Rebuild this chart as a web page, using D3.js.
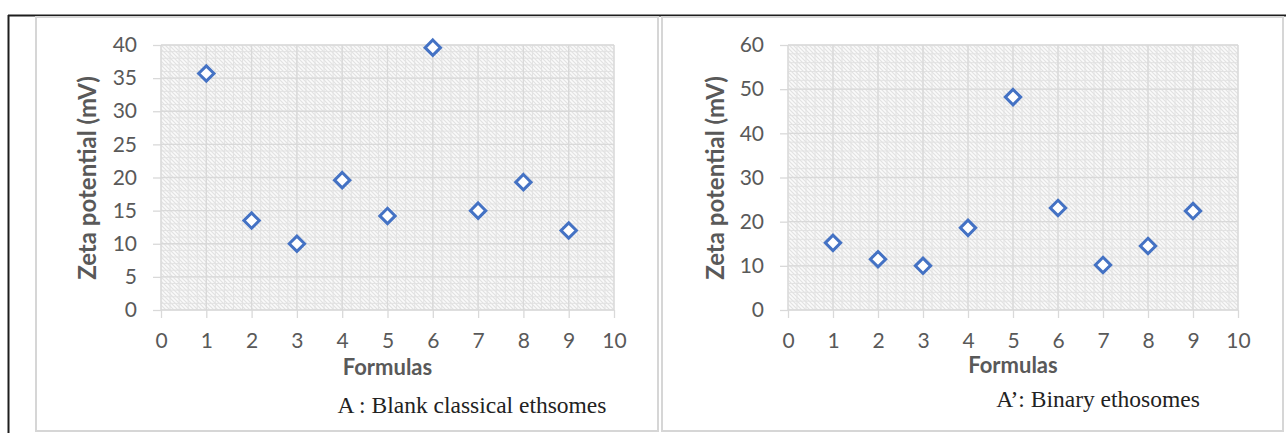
<!DOCTYPE html>
<html><head><meta charset="utf-8">
<script src="https://cdn.jsdelivr.net/npm/d3@7"></script>
<style>
html,body{margin:0;padding:0;background:#fff;}
svg{display:block;}
</style></head>
<body>
<svg id="c" width="1286" height="433"></svg>
<script>
// ---- data ----
const formulas = [1,2,3,4,5,6,7,8,9];
const zetaBlank = [35.7, 13.5, 10.0, 19.6, 14.2, 39.6, 15.0, 19.3, 12.0];
const zetaBinary = [15.2, 11.5, 10.0, 18.6, 48.2, 23.1, 10.2, 14.5, 22.4];
const xTicks = [0,1,2,3,4,5,6,7,8,9,10];
const yTicksA = [0,5,10,15,20,25,30,35,40];
const yTicksB = [0,10,20,30,40,50,60];
const xTitle = "Formulas";
const yTitleA = "Zeta potential  (mV)";
const yTitleB = "Zeta potential (mV)";
const captionA = "A : Blank classical ethsomes";
const captionB = "A\u2019: Binary ethosomes";

const svg = d3.select("#c");
const defs = svg.append("defs");
const pat = defs.append("pattern").attr("id","hatch")
  .attr("patternUnits","userSpaceOnUse").attr("width",4).attr("height",4);
pat.append("rect").attr("width",4).attr("height",4).attr("fill","#fafafa");
pat.append("path").attr("d","M-1,-1 L5,5 M-1,3 L1,5 M3,-1 L5,1")
  .attr("stroke","#e1e1e1").attr("stroke-width",1.1);

// frame
svg.append("line").attr("x1",8).attr("x2",1286).attr("y1",15.5).attr("y2",15.5)
  .attr("stroke","#1e1e1e").attr("stroke-width",2);
svg.append("line").attr("x1",8.5).attr("x2",8.5).attr("y1",15).attr("y2",433)
  .attr("stroke","#1e1e1e").attr("stroke-width",2);
svg.append("rect").attr("x",36).attr("y",17).attr("width",622).attr("height",414)
  .attr("fill","none").attr("stroke","#d6d6d6").attr("stroke-width",2);
svg.append("rect").attr("x",662).attr("y",17).attr("width",621).attr("height",414)
  .attr("fill","none").attr("stroke","#d6d6d6").attr("stroke-width",2);

const font = "Lato, 'Open Sans', sans-serif";
const grey = "#595959";

function chart(cfg){
  const x = d3.scaleLinear().domain([0,10]).range(cfg.xr);
  const y = d3.scaleLinear().domain([0,cfg.ymax]).range([310,45]);
  const g = svg.append("g");
  // plot area with hatch
  g.append("rect").attr("x",x(0)).attr("y",y(cfg.ymax))
    .attr("width",x(10)-x(0)).attr("height",y(0)-y(cfg.ymax)).attr("fill","url(#hatch)");
  // minor grid
  const minorX = d3.range(0,10.001,0.2);
  const minorY = d3.range(0,cfg.ymax+0.001,cfg.ystep/5);
  g.append("g").selectAll("line").data(minorX).join("line")
    .attr("x1",d=>x(d)).attr("x2",d=>x(d)).attr("y1",y(0)).attr("y2",y(cfg.ymax))
    .attr("stroke","#e2e2e2").attr("stroke-width",1);
  g.append("g").selectAll("line").data(minorY).join("line")
    .attr("y1",d=>y(d)).attr("y2",d=>y(d)).attr("x1",x(0)).attr("x2",x(10))
    .attr("stroke","#e2e2e2").attr("stroke-width",1);
  // major grid
  g.append("g").selectAll("line").data(xTicks).join("line")
    .attr("x1",d=>x(d)).attr("x2",d=>x(d)).attr("y1",y(0)).attr("y2",y(cfg.ymax))
    .attr("stroke","#d9d9d9").attr("stroke-width",1.3);
  g.append("g").selectAll("line").data(cfg.yTicks).join("line")
    .attr("y1",d=>y(d)).attr("y2",d=>y(d)).attr("x1",x(0)).attr("x2",x(10))
    .attr("stroke","#d9d9d9").attr("stroke-width",1.3);
  // axes
  const ya = g.append("g").attr("transform",`translate(${x(0)},0)`)
    .call(d3.axisLeft(y).tickValues(cfg.yTicks).tickSize(8).tickPadding(16));
  const xa = g.append("g").attr("transform",`translate(0,${y(0)})`)
    .call(d3.axisBottom(x).tickValues(xTicks).tickSize(8).tickPadding(15));
  [ya,xa].forEach(a=>{
    a.select(".domain").remove();
    a.selectAll(".tick line").attr("stroke","#d9d9d9").attr("stroke-width",1.3);
    a.selectAll("text").attr("fill",grey).style("font-family",font).style("font-size","21px");
  });
  // markers
  const sym = d3.symbol().type(d3.symbolDiamond2).size(150);
  g.append("g").selectAll("path").data(cfg.vals).join("path")
    .attr("transform",(d,i)=>`translate(${x(formulas[i])},${y(d)})`)
    .attr("d",sym).attr("fill","#fff").attr("stroke","#4472c4").attr("stroke-width",3);
  // titles
  g.append("text").attr("x",(x(0)+x(10))/2).attr("y",cfg.fy).attr("text-anchor","middle")
    .style("font-family",font).style("font-size","22px").style("font-weight","bold")
    .attr("fill",grey).text(xTitle);
  g.append("text").attr("transform",`translate(${cfg.ytx},178) rotate(-90)`)
    .attr("text-anchor","middle").attr("dy","0.35em")
    .style("font-family",font).style("font-size","24px").style("font-weight","bold")
    .attr("fill",grey).text(cfg.ytitle);
  g.append("text").attr("x",cfg.capx).attr("y",cfg.capy).attr("text-anchor","middle")
    .style("font-family","'Liberation Serif', 'DejaVu Serif', serif").style("font-size","23.5px")
    .attr("fill","#222").text(cfg.caption);
}

chart({xr:[161,614], ymax:40, ystep:5, yTicks:yTicksA, vals:zetaBlank, ytx:88, fy:375,
       ytitle:yTitleA, caption:captionA, capx:472, capy:413});
chart({xr:[788,1238], ymax:60, ystep:10, yTicks:yTicksB, vals:zetaBinary, ytx:716, fy:373,
       ytitle:yTitleB, caption:captionB, capx:1098, capy:407});
</script>
</body></html>
